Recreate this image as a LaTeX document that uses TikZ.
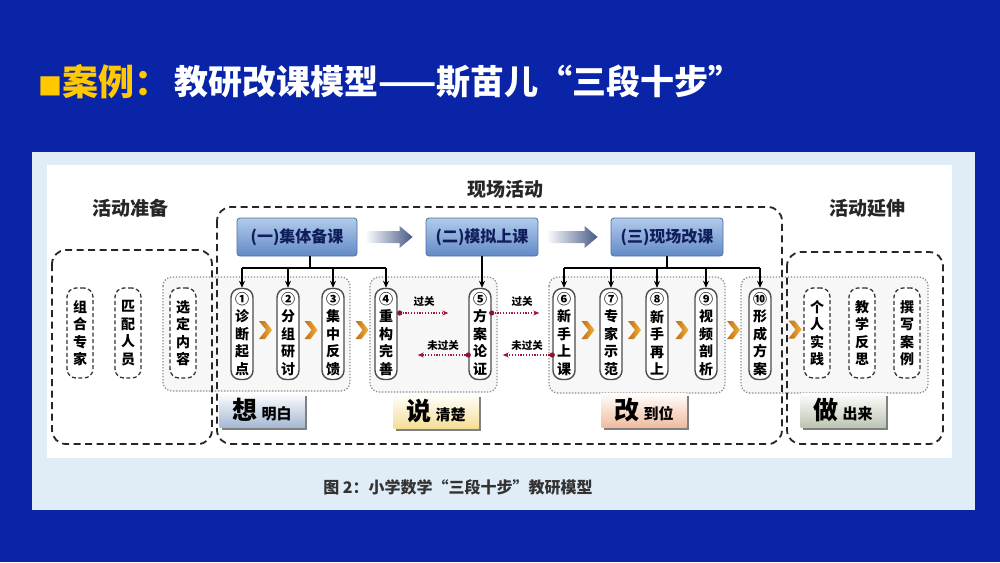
\documentclass[tikz,border=0pt]{standalone}
\usepackage{fontspec}
\newfontfamily\cjk{Noto Sans CJK SC}
\usetikzlibrary{arrows.meta,calc,shadows}
\definecolor{bgblue}{RGB}{10,36,168}
\definecolor{panel}{RGB}{224,237,247}
\definecolor{titley}{RGB}{255,200,0}
\definecolor{hdrtop}{RGB}{178,203,236}
\definecolor{hdrbot}{RGB}{98,138,198}
\definecolor{hdrline}{RGB}{80,110,165}
\definecolor{hdrtext}{RGB}{15,30,90}
\definecolor{arrowc}{RGB}{70,90,135}
\definecolor{chevdark}{RGB}{190,110,20}
\definecolor{chevlight}{RGB}{240,178,55}
\definecolor{passred}{RGB}{160,25,55}
\definecolor{tabA}{RGB}{165,185,212}
\definecolor{tabB}{RGB}{244,222,150}
\definecolor{tabC}{RGB}{240,188,158}
\definecolor{tabD}{RGB}{188,198,178}
\begin{document}
\begin{tikzpicture}[x=1pt,y=-1pt,
  outerbox/.style={draw=black!85, line width=1.8pt, dash pattern=on 7pt off 4.5pt, rounded corners=14pt},
  dotbox/.style={draw=black!45, line width=1.3pt, dash pattern=on 1.3pt off 1.7pt, rounded corners=9pt, fill=black!3},
  stepbox/.style={draw=black!70, line width=1.4pt, rounded corners=9pt, fill=white, minimum width=22pt, minimum height=91pt, inner sep=0pt, align=center, font=\cjk\bfseries\fontsize{14}{17.5}\selectfont},
  itembox/.style={draw=black!80, line width=1.3pt, dash pattern=on 4pt off 2.5pt, rounded corners=9pt, fill=white, minimum width=26pt, minimum height=90pt, inner sep=0pt, align=center, font=\cjk\bfseries\fontsize{14}{17.5}\selectfont},
  hdr/.style={draw=hdrline, line width=0.8pt, rounded corners=3pt, top color=hdrtop, bottom color=hdrbot, minimum height=38pt, text=hdrtext, font=\cjk\bfseries\fontsize{16}{16}\selectfont, inner sep=2pt},
  treeline/.style={draw=black, line width=1.6pt},
  treearrow/.style={treeline, -{Stealth[length=7pt,width=6pt]}},
  passline/.style={draw=passred, line width=1.1pt, dash pattern=on 1.2pt off 1.6pt, -{Stealth[length=6pt,width=5pt]}},
  passlbl/.style={font=\cjk\bfseries\fontsize{10.5}{10.5}\selectfont},
  tabbox/.style={minimum width=85pt, minimum height=34pt, inner sep=0pt, top color=white, drop shadow={shadow xshift=2.5pt, shadow yshift=-2.5pt, fill=black!50, opacity=1}},
  sect/.style={font=\cjk\bfseries\fontsize{19}{19}\selectfont, text=black!85},
  chev/.pic={\shade[left color=chevdark, right color=chevlight] (-6,-9) -- (0,-9) -- (7,0) -- (0,9) -- (-6,9) -- (1,0) -- cycle;}
]
\fill[bgblue] (0,0) rectangle (1000,562);
\useasboundingbox (0,0) rectangle (1000,562);
% title
\node[anchor=west, inner sep=0pt, text=titley, font=\cjk\bfseries\fontsize{36}{36}\selectfont] (t1) at (38,82) {{\fontsize{24}{24}\selectfont ■}案例：};
\node[anchor=west, inner sep=0pt, text=white, font=\cjk\bfseries\fontsize{34}{34}\selectfont] (t2) at (174,82) {教研改课模型——斯苗儿“三段十步”};
% panel
\fill[panel] (32,152) rectangle (975,510);
\fill[white] (47,165) rectangle (952,458);
% dotted group boxes
\draw[dotbox] (163,277) rectangle (350,391);
\draw[dotbox] (370,277) rectangle (497,392);
\draw[dotbox] (549,277) rectangle (725,393);
\draw[dotbox] (741,277) rectangle (928,393);
% outer dashed boxes
\draw[outerbox] (52,250) rectangle (212,444);
\draw[outerbox] (217,207) rectangle (782,444);
\draw[outerbox] (787,252) rectangle (943,444);
% section labels
\node[sect] (l1) at (130,208) {活动准备};
\node[sect] (l2) at (505,189) {现场活动};
\node[sect] (l3) at (867,208) {活动延伸};
% headers
\node[hdr, minimum width=120pt] (h1) at (297,237) {(一)集体备课};
\node[hdr, minimum width=112pt] (h2) at (482,237) {(二)模拟上课};
\node[hdr, minimum width=112pt] (h3) at (667,237) {(三)现场改课};
\shade[left color=white, right color=arrowc] ($(h1.east)+(8,-6)$) -- ($(h2.west)+(-26,-6)$) -- ($(h2.west)+(-26,-11)$) -- ($(h2.west)+(-13,0)$) -- ($(h2.west)+(-26,11)$) -- ($(h2.west)+(-26,6)$) -- ($(h1.east)+(8,6)$) -- cycle;
\shade[left color=white, right color=arrowc] ($(h2.east)+(8,-6)$) -- ($(h3.west)+(-26,-6)$) -- ($(h3.west)+(-26,-11)$) -- ($(h3.west)+(-13,0)$) -- ($(h3.west)+(-26,11)$) -- ($(h3.west)+(-26,6)$) -- ($(h2.east)+(8,6)$) -- cycle;
% items
\node[itembox] (p1) at (80,333) {组\\合\\专\\家};
\node[itembox] (p2) at (128,333) {匹\\配\\人\\员};
\node[itembox] (p3) at (183,333) {选\\定\\内\\容};
\node[itembox] (e1) at (817,333) {个\\人\\实\\践};
\node[itembox] (e2) at (862,333) {教\\学\\反\\思};
\node[itembox] (e3) at (907,333) {撰\\写\\案\\例};
% steps
\node[stepbox] (s1) at (242,334) {①\\诊\\断\\起\\点};
\node[stepbox] (s2) at (288,334) {②\\分\\组\\研\\讨};
\node[stepbox] (s3) at (333,334) {③\\集\\中\\反\\馈};
\node[stepbox] (s4) at (386,334) {④\\重\\构\\完\\善};
\node[stepbox] (s5) at (480,334) {⑤\\方\\案\\论\\证};
\node[stepbox] (s6) at (564,334) {⑥\\新\\手\\上\\课};
\node[stepbox] (s7) at (611,334) {⑦\\专\\家\\示\\范};
\node[stepbox] (s8) at (657,334) {⑧\\新\\手\\再\\上};
\node[stepbox] (s9) at (706,334) {⑨\\视\\频\\剖\\析};
\node[stepbox] (s10) at (760,334) {⑩\\形\\成\\方\\案};
% tree connectors
\coordinate (j1) at ($(h1.south)+(13,0)$);
\draw[treeline] (j1) -- (j1 |- 0,268);
\draw[treeline] (s1.north |- 0,268) -- (s4.north |- 0,268);
\foreach \s in {s1,s2,s3,s4} \draw[treearrow] (\s.north |- 0,268) -- (\s.north);
\draw[treearrow] (h2.south) -- (h2.south |- s5.north);
\draw[treeline] (h3.south) -- (h3.south |- 0,268);
\draw[treeline] (s6.north |- 0,268) -- (s10.north |- 0,268);
\foreach \s in {s6,s7,s8,s9,s10} \draw[treearrow] (\s.north |- 0,268) -- (\s.north);
% pass / fail
\coordinate (a1) at ($(s4.east)+(2,-21)$);
\coordinate (a2) at ($(s5.west)+(0,21)$);
\coordinate (a3) at ($(s5.east)+(0,-21)$);
\coordinate (a4) at ($(s6.west)+(0,21)$);
\draw[passline] (a1) -- ($(s5.west)+(-20,-21)$);
\draw[passline] (a2) -- ($(s4.east)+(20,21)$);
\draw[passline] (a3) -- ($(s6.west)+(-13,-21)$);
\draw[passline] (a4) -- ($(s5.east)+(11,21)$);
\foreach \c in {a1,a2,a3,a4} \fill[passred!85!black] (\c) circle (2.6);
\node[passlbl] (g1) at (424,302) {过关};
\node[passlbl] (g2) at (443,346) {未过关};
\node[passlbl] (g3) at (522,302) {过关};
\node[passlbl] (g4) at (527,346) {未过关};
% chevrons
\pic at ($(s1.east)!0.5!(s2.west)+(0,-4)$) {chev};
\pic at ($(s2.east)!0.5!(s3.west)+(0,-4)$) {chev};
\pic at ($(s3.east)!0.5!(s4.west)+(2,-4)$) {chev};
\pic at ($(s6.east)!0.5!(s7.west)+(0,-4)$) {chev};
\pic at ($(s7.east)!0.5!(s8.west)+(0,-4)$) {chev};
\pic at ($(s8.east)!0.5!(s9.west)+(0,-4)$) {chev};
\pic at ($(s9.east)!0.5!(s10.west)+(0,-4)$) {chev};
\pic at ($(s10.east)!0.5!(e1.west)+(7,-4)$) {chev};
% tabs
\node[tabbox, bottom color=tabA] (k1) at (262,410) {{\cjk\bfseries\fontsize{25}{25}\selectfont 想}\hspace{4pt}{\cjk\bfseries\fontsize{15}{15}\selectfont 明白}};
\node[tabbox, bottom color=tabB] (k2) at (436,411) {{\cjk\bfseries\fontsize{25}{25}\selectfont 说}\hspace{4pt}{\cjk\bfseries\fontsize{15}{15}\selectfont 清楚}};
\node[tabbox, bottom color=tabC] (k3) at (644,410) {{\cjk\bfseries\fontsize{25}{25}\selectfont 改}\hspace{4pt}{\cjk\bfseries\fontsize{15}{15}\selectfont 到位}};
\node[tabbox, bottom color=tabD] (k4) at (843,410) {{\cjk\bfseries\fontsize{25}{25}\selectfont 做}\hspace{4pt}{\cjk\bfseries\fontsize{15}{15}\selectfont 出来}};
% caption
\node[font=\cjk\bfseries\fontsize{16}{16}\selectfont, text=black!80] (cap) at (458,487) {图 2：小学数学“三段十步”教研模型};
\end{tikzpicture}
\end{document}
